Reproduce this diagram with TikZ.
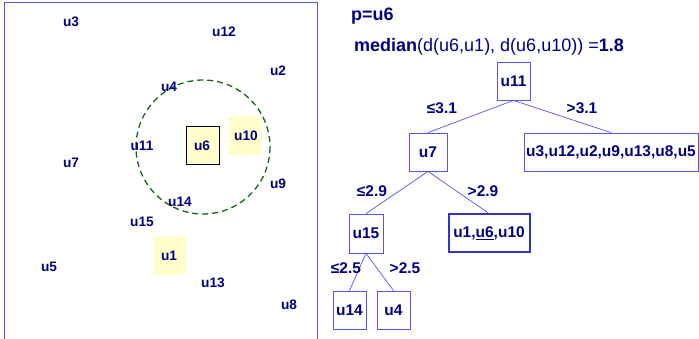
\documentclass[tikz,border=0pt]{standalone}
\usepackage{fontspec}
\setmainfont{Liberation Sans}
\definecolor{txt}{RGB}{0,0,128}
\definecolor{ln}{RGB}{85,85,225}
\definecolor{lnd}{RGB}{50,50,200}
\definecolor{hl}{RGB}{255,255,204}
\definecolor{cg}{RGB}{20,100,20}
\begin{document}
\begin{tikzpicture}[x=1pt,y=-1pt,
  pt/.style={text=txt,font=\fontsize{13.7}{16}\selectfont\bfseries,inner sep=0pt},
  tb/.style={draw=ln,line width=0.8pt,text=txt,font=\fontsize{15.5}{18}\selectfont\bfseries,inner sep=0pt,minimum width=33pt,minimum height=38pt},
  el/.style={text=txt,font=\fontsize{15.5}{18}\selectfont\bfseries,inner sep=0pt},
  edge/.style={draw=ln,line width=0.7pt},
  hd/.style={text=txt,font=\fontsize{18}{20}\selectfont,inner sep=0pt,anchor=west}]
\useasboundingbox (0,0) rectangle (699,339);
% frame
\draw[ln,line width=0.9pt] (4,339) -- (4,2) -- (317,2) -- (317,339);
% highlight boxes
\fill[hl] (229,116) rectangle (262,155);
\fill[hl] (153,236) rectangle (186,275);
\draw[fill=hl,draw=black,line width=0.8pt] (186,126) rectangle (219,164);
% circle
\draw[cg,line width=1.3pt,dash pattern=on 6pt off 4pt] (203,147) circle (67);
% points
\node[pt] (u3) at (71,22) {u3};
\node[pt] (u12) at (224,32) {u12};
\node[pt] (u2) at (278,71) {u2};
\node[pt] (u4) at (169,87) {u4};
\node[pt] (u11) at (142,146) {u11};
\node[pt] (u6) at (202,146) {u6};
\node[pt] (u10) at (246,136) {u10};
\node[pt] (u7) at (71,163) {u7};
\node[pt] (u9) at (278,184) {u9};
\node[pt] (u14) at (180,202) {u14};
\node[pt] (u15) at (142,222) {u15};
\node[pt] (u1) at (169,256) {u1};
\node[pt] (u5) at (49,267) {u5};
\node[pt] (u13) at (213,283) {u13};
\node[pt] (u8) at (289,305) {u8};
% header
\node[hd] (p) at (351,16) {\bfseries p=u6};
\node[hd] (med) at (354,47) {\bfseries median\mdseries(d(u6,u1), d(u6,u10)) =\bfseries1.8};
% tree
\node[tb] (t11) at (513.5,81) {u11};
\node[tb,minimum width=38pt] (t7) at (428,152) {u7};
\node[tb,minimum width=174pt] (tbig) at (611,152) {u3,u12,u2,u9,u13,u8,u5};
\node[tb,minimum width=34pt,minimum height=39pt] (t15) at (366,233.5) {u15};
\node[tb,draw=lnd,line width=2pt,minimum width=81pt,minimum height=38pt] (tleaf) at (489,233.5) {u1,\underline{u6},u10};
\node[tb] (t14) at (349.5,310) {u14};
\node[tb] (t4) at (393.5,310) {u4};
\draw[edge] (t11.south) -- (t7.north);
\draw[edge] (t11.south) -- (tbig.north);
\draw[edge] (t7.south) -- (t15.north);
\draw[edge] (t7.south) -- (tleaf.north);
\draw[edge] (t15.south) -- (t14.north);
\draw[edge] (t15.south) -- (t4.north);
\node[el] (l1) at (442,108) {≤3.1};
\node[el] (l2) at (582,108) {>3.1};
\node[el] (l3) at (372,191) {≤2.9};
\node[el] (l4) at (483,191) {>2.9};
\node[el] (l5) at (346,268) {≤2.5};
\node[el] (l6) at (405,268) {>2.5};
\end{tikzpicture}
\end{document}
